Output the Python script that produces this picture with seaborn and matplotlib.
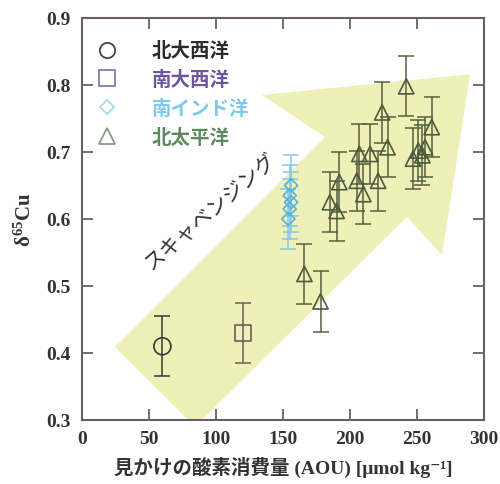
import matplotlib
matplotlib.use("Agg")
import matplotlib.pyplot as plt
from matplotlib.patches import Polygon
from matplotlib.lines import Line2D
from matplotlib.font_manager import FontProperties
import seaborn as sns
import pandas as pd

# data: AOU [umol/kg], d65Cu, error
na_x = [60]
na_y = [0.41]
na_err = [0.045]

sa_x = [120]
sa_y = [0.43]
sa_err = [0.045]

si_x = [154, 155, 156, 155, 156]
si_y = [0.600, 0.615, 0.625, 0.635, 0.650]
si_err = [0.045, 0.045, 0.045, 0.045, 0.045]

np_x = [166, 178, 185, 190, 192, 205, 207, 210, 215, 221, 224, 228, 242, 247, 251, 254, 256, 261]
np_y = [0.518, 0.477, 0.625, 0.612, 0.655, 0.657, 0.697, 0.637, 0.697, 0.657,
        0.759, 0.707, 0.798, 0.690, 0.702, 0.695, 0.707, 0.737]
np_err = [0.045] * len(np_x)

labels = ["北大西洋", "南大西洋", "南インド洋", "北太平洋"]

# big "scavenging" arrow outline (data coords)
arrow_x = [24.6, 181.3, 134.3, 289.6, 268.7, 242.5, 84.3]
arrow_y = [0.409, 0.722, 0.785, 0.816, 0.546, 0.603, 0.290]

rows = []
for lab, xs, ys, es in zip(labels, [na_x, sa_x, si_x, np_x], [na_y, sa_y, si_y, np_y],
                           [na_err, sa_err, si_err, np_err]):
    for x, y, e in zip(xs, ys, es):
        rows.append({"ocean": lab, "aou": x, "d65": y, "err": e})
df = pd.DataFrame(rows)

sns.set_style("ticks")
plt.rcParams["font.family"] = ["Liberation Serif", "Noto Sans CJK JP", "DejaVu Serif"]
plt.rcParams["mathtext.fontset"] = "custom"
plt.rcParams["mathtext.rm"] = "Liberation Serif:bold"
plt.rcParams["mathtext.bf"] = "Liberation Serif:bold"
plt.rcParams["mathtext.it"] = "Liberation Serif:bold"

fig = plt.figure(figsize=(5.0, 4.85), dpi=100)
ax = fig.add_axes([0.164, 0.132, 0.804, 0.829])

ax.add_patch(Polygon(list(zip(arrow_x, arrow_y)), closed=True, facecolor="#eef0b8",
                     edgecolor="none", zorder=0))

marker_map = {"北大西洋": "o", "南大西洋": "s", "南インド洋": "D", "北太平洋": "^"}
size_map = {"北大西洋": 150, "南大西洋": 125, "南インド洋": 45, "北太平洋": 120}
edge_map = {"北大西洋": "#3d3535", "南大西洋": "#6b5a63", "南インド洋": "#55b4de", "北太平洋": "#4e5a3e"}
bar_map = {"北大西洋": "#3d3535", "南大西洋": "#6b5a63", "南インド洋": "#86c8e6", "北太平洋": "#56603f"}

for lab in labels:
    sub = df[df["ocean"] == lab]
    ax.errorbar(sub["aou"], sub["d65"], yerr=sub["err"], fmt="none", ecolor=bar_map[lab],
                elinewidth=1.1, capsize=6, capthick=1.1, zorder=2)
    sns.scatterplot(data=sub, x="aou", y="d65", marker=marker_map[lab], s=size_map[lab],
                    color=edge_map[lab], facecolor="none", edgecolor=edge_map[lab],
                    linewidth=1.2, ax=ax, zorder=3, legend=False)

ax.text(96, 0.613, "スキャベンジング", rotation=41, rotation_mode="anchor",
        ha="center", va="center", fontsize=15, color="#333333",
        family=["Noto Sans CJK JP", "DejaVu Sans"])

# legend
leg_colors = ["#4d4040", "#8c78b0", "#a8d8f0", "#8a9a8a"]
text_colors = ["#2e2a2a", "#6e55a0", "#80c8ea", "#5d8a5d"]
handles = [Line2D([], [], linestyle="none", marker=marker_map[l], markersize=ms,
                  markerfacecolor="none", markeredgecolor=c, markeredgewidth=1.3)
           for l, c, ms in zip(labels, leg_colors, [11, 11, 7, 11])]
ax.legend(handles, labels, loc="upper left", bbox_to_anchor=(-0.03, 0.985), frameon=False,
          labelcolor=text_colors, handletextpad=1.3, labelspacing=0.5,
          prop=FontProperties(family=["Noto Sans CJK JP"], size=14, weight="bold"))

ax.set_xlim(0, 300)
ax.set_ylim(0.3, 0.9)
ax.set_xticks([0, 50, 100, 150, 200, 250, 300])
ax.set_yticks([0.3, 0.4, 0.5, 0.6, 0.7, 0.8, 0.9])
ax.set_yticklabels([f"{v:.1f}" for v in ax.get_yticks()])

spine_c = "#6a6060"
for s in ax.spines.values():
    s.set_color(spine_c)
    s.set_linewidth(1.5)
ax.tick_params(direction="in", length=8, width=1.3, color=spine_c, top=True, right=True,
               labelsize=14, labelcolor="#333333")
ax.tick_params(axis="y", pad=8)
ax.tick_params(axis="x", pad=7)
for t in ax.get_xticklabels() + ax.get_yticklabels():
    t.set_fontweight("bold")

ax.set_xlabel("見かけの酸素消費量 (AOU) [μmol kg⁻¹]", fontsize=14, fontweight="bold",
              color="#333333", labelpad=7)
ax.set_ylabel(r"$\mathbf{\delta}^{\mathbf{65}}$Cu", fontsize=15, fontweight="bold",
              color="#333333", labelpad=8)

fig.savefig("out.png", dpi=100)
